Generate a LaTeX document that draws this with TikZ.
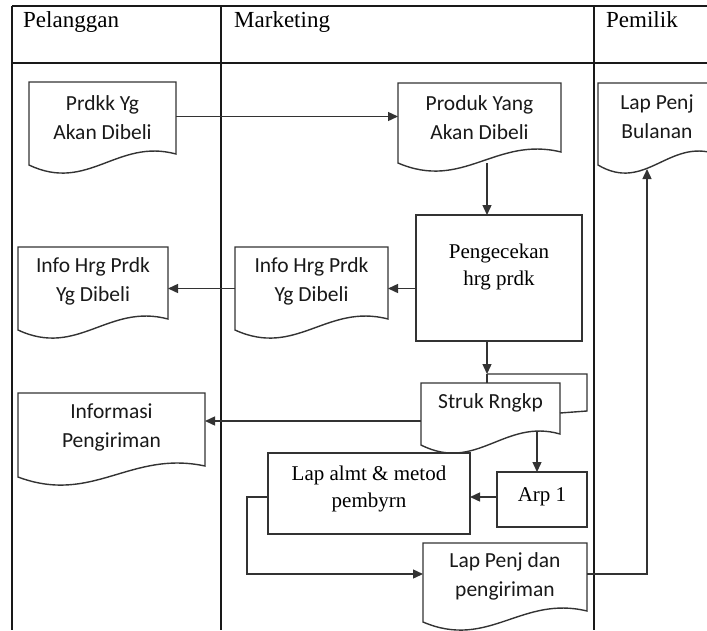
\documentclass[tikz,border=0pt]{standalone}
\usepackage{fontspec}
\setmainfont{Liberation Serif}
\newfontfamily\calibri{Carlito}
\usetikzlibrary{arrows.meta,calc}

% document symbol: flat top, straight sides, wavy bottom
\newcommand{\docoutline}[1]{%
  \draw[shapeline] (#1.north west) -- (#1.north east) -- ($(#1.south east)+(0,-11)$)
    .. controls ($(#1.south)!0.2!(#1.south east)+(0,-27)$) and ($(#1.south west)!0.8!(#1.south)+(0,28)$) .. (#1.south west) -- cycle;}

\begin{document}
\begin{tikzpicture}[x=1pt, y=-1pt,
  tableline/.style={draw=black!90, line width=1.5pt},
  shapeline/.style={draw=black!80, line width=1.4pt},
  flow/.style={shapeline, -{Triangle[length=10pt,width=9pt]}},
  area/.style={inner sep=0pt, outer sep=0pt},
  proc/.style={shapeline, inner sep=0pt, outer sep=0pt},
  doctext/.style={align=center, inner sep=0pt, text=black!90, font=\calibri\fontsize{21.5}{29}\selectfont},
  proctext/.style={align=center, inner sep=0pt, font=\fontsize{21}{27}\selectfont},
  head/.style={anchor=base west, inner sep=0pt, font=\fontsize{23}{27}\selectfont}]

\useasboundingbox (0,0) rectangle (707,630);
\clip (0,0) rectangle (707,630);

% swimlane table
\draw[tableline] (12,6) -- (707,6);
\draw[tableline] (12,63) -- (707,63);
\draw[tableline] (12,6) -- (12,630);
\draw[tableline] (221,6) -- (221,630);
\draw[tableline] (594,6) -- (594,630);
\node[head] (h1) at (23,27) {Pelanggan};
\node[head] (h2) at (234,27) {Marketing};
\node[head] (h3) at (606,27) {Pemilik};

% documents
\node[area, minimum width=147pt, minimum height=83pt] (prdkk) at (102.5,123.5) {};
\node[doctext] (prdkk-t) at (102.5,118) {Prdkk Yg\\Akan Dibeli};
\docoutline{prdkk}

\node[area, minimum width=163pt, minimum height=80pt] (produk) at (479.5,123) {};
\node[doctext] (produk-t) at (479.5,118) {Produk Yang\\Akan Dibeli};
\docoutline{produk}

\node[area, minimum width=118pt, minimum height=82pt] (bul) at (657,124) {};
\node[doctext] (bul-t) at (657,117) {Lap Penj\\Bulanan};
\docoutline{bul}

\node[area, minimum width=153pt, minimum height=83pt] (infom) at (311.5,288.5) {};
\node[doctext] (infom-t) at (311.5,281.5) {Info Hrg Prdk\\Yg Dibeli};
\docoutline{infom}

\node[area, minimum width=150pt, minimum height=83pt] (infop) at (93,288.5) {};
\node[doctext] (infop-t) at (93,281.5) {Info Hrg Prdk\\Yg Dibeli};
\docoutline{infop}

\node[area, minimum width=139pt, minimum height=62pt] (struk) at (490.5,414) {};
\node[doctext] (struk-t) at (490.5,403) {Struk Rngkp};
\docoutline{struk}

\node[area, minimum width=187pt, minimum height=84pt] (inform) at (111.5,435) {};
\node[doctext] (inform-t) at (111.5,427) {Informasi\\Pengiriman};
\docoutline{inform}

\node[area, minimum width=164pt, minimum height=79pt] (lpd) at (505,582.5) {};
\node[doctext] (lpd-t) at (505,576.5) {Lap Penj dan\\pengiriman};
\docoutline{lpd}

% processes
\node[proc, minimum width=166pt, minimum height=126pt] (cek) at (499,278) {};
\node[proctext] (cek-t) at (499,266.5) {Pengecekan\\hrg prdk};

\node[proc, minimum width=202pt, minimum height=81pt] (almt) at (369,493.5) {};
\node[proctext] (almt-t) at (369,488.5) {Lap almt \& metod\\pembyrn};

\node[proc, minimum width=90pt, minimum height=55pt] (arp) at (542,499.5) {};
\node[proctext] (arp-t) at (542,497) {Arp 1};

% flows
\coordinate (p1) at ([yshift=7pt]prdkk.east);
\draw[flow] (p1) -- (p1 -| produk.west);

\coordinate (p2) at ([xshift=7.5pt]produk.south);
\draw[flow] (p2) -- (p2 |- cek.north);

\coordinate (p3) at (cek.west |- infom.east);
\draw[flow] (p3) -- (infom.east);
\draw[flow] (infom.west) -- (infop.east);

% second sheet behind the receipt
\coordinate (p4) at (p2 |- cek.south);
\coordinate (bk) at ($(struk.north east)+(27,-9)$);
\coordinate (p5) at (p2 |- bk);
\draw[flow] (p4) -- (p5);
\draw[shapeline] (p5) -- (p5 |- struk.north);
\draw[shapeline] (p5) -- (bk) -- ($(struk.north east)+(27,28)$) -- ($(struk.north east)+(0,30)$);

\coordinate (p6) at ([yshift=-7pt]struk.west);
\draw[flow] (p6) -- (p6 -| inform.east);

\coordinate (p7) at ($(struk.south east)+(-23,-13)$);
\draw[flow] (p7) -- (p7 |- arp.north);

\coordinate (p8) at ([yshift=2.5pt]arp.west);
\draw[flow] (p8) -- (p8 -| almt.east);

\coordinate (p8b) at (p8 -| almt.west);
\coordinate (p8c) at ([yshift=8.5pt]lpd.west);
\draw[flow] (p8b) -- ++(-21,0) |- (p8c);

\coordinate (p9) at ([yshift=8.5pt]lpd.east);
\coordinate (b1) at ($(bul.south west)+(49,4)$);
\draw[flow] (p9) -| (b1);

\end{tikzpicture}
\end{document}
